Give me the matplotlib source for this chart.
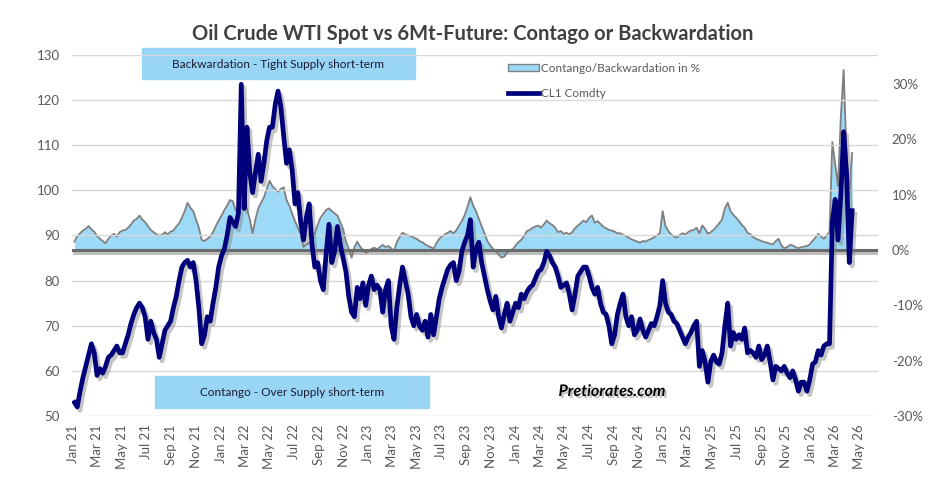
import matplotlib.pyplot as plt
import matplotlib.patheffects as pe
from matplotlib.patches import Patch
from matplotlib.lines import Line2D
import pandas as pd

plt.rcParams['font.family'] = ['Lato', 'DejaVu Sans']

# weekly points (Mondays from Jan 2021)
weeks = pd.date_range('2021-01-04', periods=276, freq='7D')

# CL1 Comdty, USD/bbl
cl1 = [
    53, 52, 55.5, 58.5, 61, 63.5, 66, 64, 59, 60.5,
    59.5, 61, 63, 63.5, 64.5, 65.5, 64, 64, 66, 68,
    70.5, 72.5, 74, 75, 74, 72, 67, 71, 68.5, 67,
    63, 66, 69, 70, 71, 74, 76.5, 80, 83, 84,
    84.5, 83, 84, 80, 74, 66, 68, 72, 71, 75,
    78.5, 83, 85.5, 87, 90, 94, 93, 92, 95, 123.5,
    96, 114, 104, 99.5, 104, 108, 102, 106, 111, 114,
    114, 119, 122, 118.5, 112, 106, 109, 104.5, 97, 99.5,
    93, 89, 94, 97, 88, 83, 84, 80, 78, 86,
    92.5, 84, 86.5, 92, 88, 85, 82, 76.5, 73, 72,
    78.5, 76, 79.5, 74.5, 79, 81, 78, 79, 78, 73,
    78, 80, 70, 67, 74, 79, 83, 80, 77, 72,
    70, 72.5, 70, 69, 71, 67.5, 72.5, 68, 72, 76,
    78.5, 80.5, 82.5, 83.5, 84, 80, 82, 86.5, 88.5, 90,
    93.5, 83, 87, 88.5, 84, 81, 78, 75.5, 73.5, 76.5,
    72, 69.5, 72.5, 75, 71, 73, 75, 74, 77, 76,
    77.5, 78.5, 79, 80.5, 82, 82.5, 84, 86.5, 85.5, 84,
    83, 81, 78.5, 79, 79.5, 77, 73.5, 77, 81, 82,
    83, 83, 81, 78.5, 77, 78.5, 75, 73, 72.5, 70,
    66, 68, 72.5, 75, 77, 72, 70, 72, 68, 69,
    71.5, 69, 67.5, 69, 70.5, 70, 72, 74.5, 80, 75,
    73, 72.5, 71, 70.5, 69, 67.5, 66, 67.5, 68.5, 70,
    71, 61, 64.5, 62, 57.5, 62, 63.5, 62, 61.5, 64,
    70, 75, 65.5, 68.5, 67, 68, 67, 69.5, 64, 64.5,
    64, 63, 65.5, 62.5, 63.5, 65.5, 62, 58, 61, 60.5,
    60, 61, 59.5, 58.5, 60, 58, 55.5, 57.5, 57.5, 55.5,
    58, 61.5, 62, 64.5, 63.5, 65.5, 66, 66, 93, 98,
    89, 99, 113, 104, 84, 95.5,
]

# spot vs 6-month future, in %
contango = [
    1.5, 2.5, 3.0, 3.5, 3.8, 4.3, 3.7, 3.3, 2.5, 2.0,
    1.6, 1.2, 2.0, 2.6, 2.9, 2.4, 3.2, 3.5, 3.6, 4.0,
    4.6, 5.3, 5.6, 6.2, 5.5, 5.0, 4.3, 3.6, 3.2, 2.8,
    2.6, 2.7, 3.2, 2.8, 3.3, 3.5, 4.2, 4.8, 5.8, 7.0,
    8.5, 7.6, 7.0, 5.5, 4.0, 1.8, 1.6, 2.0, 2.4, 3.2,
    4.3, 5.3, 6.2, 7.2, 8.0, 9.0, 8.8, 7.2, 6.5, 11.0,
    8.5, 7.5, 5.5, 3.0, 5.5, 7.5, 8.5, 9.5, 11.0, 12.5,
    11.5, 11.0, 10.5, 11.0, 11.3, 9.0, 8.0, 6.5, 5.2, 4.0,
    2.8, 0.5, 1.0, 1.3, 1.5, 3.0, 4.5, 5.8, 6.5, 7.2,
    7.5, 7.0, 6.6, 6.2, 5.0, 3.8, 1.5, 0.2, -1.4, 0.5,
    1.5, 0.6, 0.0, -0.5, -0.3, 0.2, 0.4, 0.1, 0.5, 0.9,
    0.5, 0.7, 0.3, -0.2, 1.4, 2.3, 3.1, 2.8, 2.6, 2.5,
    2.2, 2.0, 1.6, 1.4, 1.0, 0.7, 0.5, 0.2, 1.2, 2.0,
    2.5, 2.8, 3.1, 3.4, 3.0, 3.5, 4.4, 5.2, 6.3, 7.8,
    9.5, 8.0, 7.0, 5.6, 4.3, 3.0, 1.6, 0.8, 0.2, -0.3,
    -0.8, -1.4, -1.2, -0.5, 0.0, 0.1, 0.8, 1.4, 1.8, 2.5,
    3.4, 3.6, 4.0, 4.2, 4.4, 4.0, 4.6, 5.3, 4.8, 4.5,
    4.0, 3.2, 3.4, 2.9, 3.1, 2.8, 3.2, 3.9, 4.4, 4.8,
    5.3, 5.0, 5.8, 6.2, 4.9, 5.2, 4.7, 4.2, 3.9, 3.6,
    3.5, 3.3, 3.0, 3.0, 2.7, 2.5, 2.2, 1.9, 1.7, 1.5,
    1.3, 1.6, 1.5, 1.8, 2.0, 2.3, 2.6, 3.0, 7.0, 4.3,
    3.4, 2.8, 2.4, 2.2, 2.7, 3.0, 2.8, 3.2, 3.5, 3.6,
    4.0, 3.0, 4.4, 3.8, 2.9, 3.2, 3.6, 4.2, 4.8, 5.5,
    7.5, 8.5, 7.0, 6.3, 5.8, 5.2, 4.5, 4.0, 3.1, 2.8,
    2.3, 2.0, 1.8, 1.6, 1.4, 1.3, 1.1, 1.0, 1.6, 2.0,
    0.8, 0.3, 0.5, 0.9, 0.8, 0.5, 0.3, 0.5, 0.6, 0.7,
    1.0, 1.6, 2.2, 2.9, 2.4, 2.0, 2.6, 3.2, 19.5, 15.5,
    11.5, 24.0, 32.5, 17.0, 10.0, 17.5,
]

xticks = pd.date_range('2021-01-01', '2026-05-01', freq='2MS')
xlabels = [d.strftime('%b %y') for d in xticks]

price_ticks = [50, 60, 70, 80, 90, 100, 110, 120, 130]
pct_ticks = [-30, -20, -10, 0, 10, 20, 30]

area_col = '#9DDAF7'
box_col = '#99D6F6'
navy = '#00007A'
grey_txt = '#595959'

fig = plt.figure(figsize=(9.45, 4.95), dpi=100)
ax2 = fig.add_axes([0.0762, 0.1596, 0.8529, 0.7293])   # contango, right axis
ax = ax2.twinx()                                        # price, left axis
ax.set_zorder(ax2.get_zorder() + 1)
ax.patch.set_visible(False)

# contango / backwardation area
ax2.fill_between(weeks, 0, contango, color=area_col, lw=0, zorder=1)
ax2.plot(weeks, contango, color='#7F7F7F', lw=1.3, zorder=2)
ax2.axhline(0, color='#6A6A6A', lw=2.2, zorder=3,
            path_effects=[pe.SimpleLineShadow(offset=(1.5, -2), shadow_color='grey', alpha=0.5), pe.Normal()])
ax2.set_ylim(-30, 35.2)
ax2.yaxis.tick_right()
ax2.set_yticks(pct_ticks)
ax2.set_yticklabels([f'{t}%' for t in pct_ticks])

# CL1 price line
ax.plot(weeks, cl1, color=navy, lw=3.4, zorder=5, solid_joinstyle='round',
        path_effects=[pe.SimpleLineShadow(offset=(2, -2.5), shadow_color='grey', alpha=0.45), pe.Normal()])
ax.set_ylim(50, 130)
ax.yaxis.tick_left()
ax.set_yticks(price_ticks)
ax.grid(axis='y', color='#D9D9D9', lw=1.0, zorder=0)
ax.set_axisbelow(True)

ax.set_xlim(pd.Timestamp('2020-12-29'), pd.Timestamp('2026-06-16'))
ax2.set_xticks(xticks)
ax2.set_xticklabels(xlabels, rotation=90)

for a in (ax, ax2):
    for s in a.spines.values():
        s.set_visible(False)
    a.tick_params(length=0, colors=grey_txt, labelsize=9.5)
ax.tick_params(axis='y', pad=9)
ax2.tick_params(axis='y', pad=10)
ax2.tick_params(axis='x', pad=6)

fig.text(0.5, 0.932, 'Oil Crude WTI Spot vs 6Mt-Future: Contago or Backwardation',
         ha='center', va='center', fontsize=14.5, fontweight='bold', color='#404040')

# annotation boxes
fig.patches.append(plt.Rectangle((142 / 945, 1 - 79 / 495), 273 / 945, 31 / 495,
                                 transform=fig.transFigure, color=box_col, zorder=0))
fig.text(278 / 945, 1 - 64 / 495, 'Backwardation - Tight Supply short-term',
         ha='center', va='center', fontsize=8.5, color='#1A1A2E')
fig.patches.append(plt.Rectangle((155 / 945, 1 - 408 / 495), 274 / 945, 32 / 495,
                                 transform=fig.transFigure, color=box_col, zorder=0))
fig.text(292 / 945, 1 - 392 / 495, 'Contango - Over Supply short-term',
         ha='center', va='center', fontsize=8.5, color='#1A1A2E')

fig.text(612 / 945, 1 - 392 / 495, 'Pretiorates.com', ha='center', va='center',
         fontsize=11.5, fontweight='bold', fontstyle='italic', color='black',
         path_effects=[pe.withSimplePatchShadow(offset=(1.5, -1.5), shadow_rgbFace='grey', alpha=0.5)])

handles = [Patch(facecolor=area_col, edgecolor='#808080', lw=1.0),
           Line2D([0], [0], color=navy, lw=3.4)]
fig.legend(handles, ['Contango/Backwardation in %', 'CL1 Comdty'],
           loc='upper left', bbox_to_anchor=(502 / 945, 1 - 57 / 495), frameon=False,
           fontsize=8.5, labelcolor=grey_txt, handlelength=2.6, handleheight=0.6,
           handletextpad=0.2, labelspacing=1.2, borderpad=0)

fig.savefig('out.png', dpi=100)
